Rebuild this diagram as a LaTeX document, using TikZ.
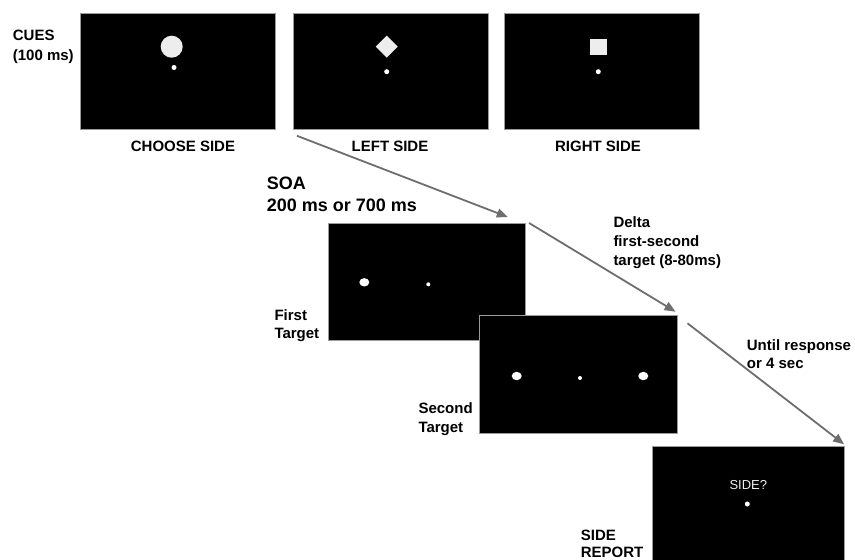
\documentclass[tikz,border=0pt]{standalone}
\usepackage{fontspec}
\setmainfont{Liberation Sans}
\usetikzlibrary{arrows.meta,calc}
\definecolor{framegray}{HTML}{9A9A9A}
\definecolor{arrowgray}{HTML}{6E6E6E}
\definecolor{cuefill}{HTML}{EDEDED}
\tikzset{
  screen/.style={draw=framegray, line width=0.8pt, fill=black, rectangle,
    anchor=north west, inner sep=0pt, minimum width=#1},
  screen/.default=195,
  % multi-line labels are placed by the baseline of their last line
  lbl/.style={font=\fontsize{15}{#1}\selectfont\bfseries, align=left,
    anchor=base west, inner sep=0pt},
  lbl/.default=18.8,
  caption/.style={font=\fontsize{15}{18}\selectfont\bfseries, anchor=base,
    inner sep=0pt},
  bigl/.style={font=\fontsize{18}{21.7}\selectfont\bfseries, align=left,
    anchor=base west, inner sep=0pt},
  flow/.style={draw=arrowgray, line width=1.8pt,
    -{Triangle[length=11pt,width=9pt]}},
  dot/.style={fill=white, draw=none},
  cueshape/.style={fill=cuefill, draw=none}
}
\begin{document}
\begin{tikzpicture}[x=1pt,y=-1pt]
\useasboundingbox[fill=white] (0,0) rectangle (855,560);

% cue screens
\node[screen, minimum height=116] (cueA) at (80,13) {};
\node[screen, minimum height=116] (cueB) at (292.7,13) {};
\node[screen, minimum height=116] (cueC) at (504.3,13) {};

\fill[cueshape] (171.7,46.7) circle (11);
\fill[dot] (174,67.5) circle (2.5);
\fill[cueshape] (386.7,35.7) -- (397.7,46.7) -- (386.7,57.7) -- (375.7,46.7) -- cycle;
\fill[dot] (386.7,71.7) circle (2.5);
\fill[cueshape] (590,39) rectangle (606.5,55);
\fill[dot] (598.3,71.7) circle (2.5);

\node[lbl=20] (cues) at (12.7,60.5) {CUES\\(100 ms)};
\node[caption] (capA) at (183,151) {CHOOSE SIDE};
\node[caption] (capB) at (390,151) {LEFT SIDE};
\node[caption] (capC) at (598,151) {RIGHT SIDE};

% target screens
\node[screen=197, minimum height=117] (first) at (328,223) {};
\fill[dot] (364.3,282.3) ellipse (5 and 4.2);
\fill[dot] (428.3,284.3) circle (2);

\node[screen=198, minimum height=118] (second) at (479,315) {};
\fill[dot] (516.7,376) ellipse (5 and 4.2);
\fill[dot] (580,378) circle (2);
\fill[dot] (643.3,376) ellipse (5 and 4.2);

\node[screen=192, minimum height=118] (report) at (652,446) {};
\node[font=\fontsize{13}{15}\selectfont, text=cuefill, anchor=base, inner sep=0pt]
  (ask) at (748.3,489.6) {SIDE?};
\fill[dot] (747.3,504) circle (2.5);

% labels
\node[bigl] (soa) at (266.7,211.5) {SOA\\200 ms or 700 ms};
\node[lbl=18] (firstlbl) at (274.3,338.5) {First\\Target};
\node[lbl=18.7] (secondlbl) at (418.3,432.2) {Second\\Target};
\node[lbl=19.2] (delta) at (613.3,265.5) {Delta\\first-second\\target (8-80ms)};
\node[lbl=18.3] (until) at (746.7,368.8) {Until response\\or 4 sec};
\node[lbl=16.7] (sidelbl) at (580.7,557.2) {SIDE\\REPORT};

% timeline arrows
\coordinate (a1s) at ($(cueB.south west)+(4.3,6)$);
\coordinate (a1e) at ($(first.north east)+(-18,-6)$);
\coordinate (a2s) at ($(first.north east)+(3.3,0)$);
\coordinate (a2e) at ($(second.north east)+(-2.3,-3.3)$);
\coordinate (a3s) at ($(second.north east)+(9.7,8.3)$);
\coordinate (a3e) at ($(report.north east)+(-0.7,-1.7)$);
\draw[flow] (a1s) -- (a1e);
\draw[flow] (a2s) -- (a2e);
\draw[flow] (a3s) -- (a3e);
\end{tikzpicture}
\end{document}
